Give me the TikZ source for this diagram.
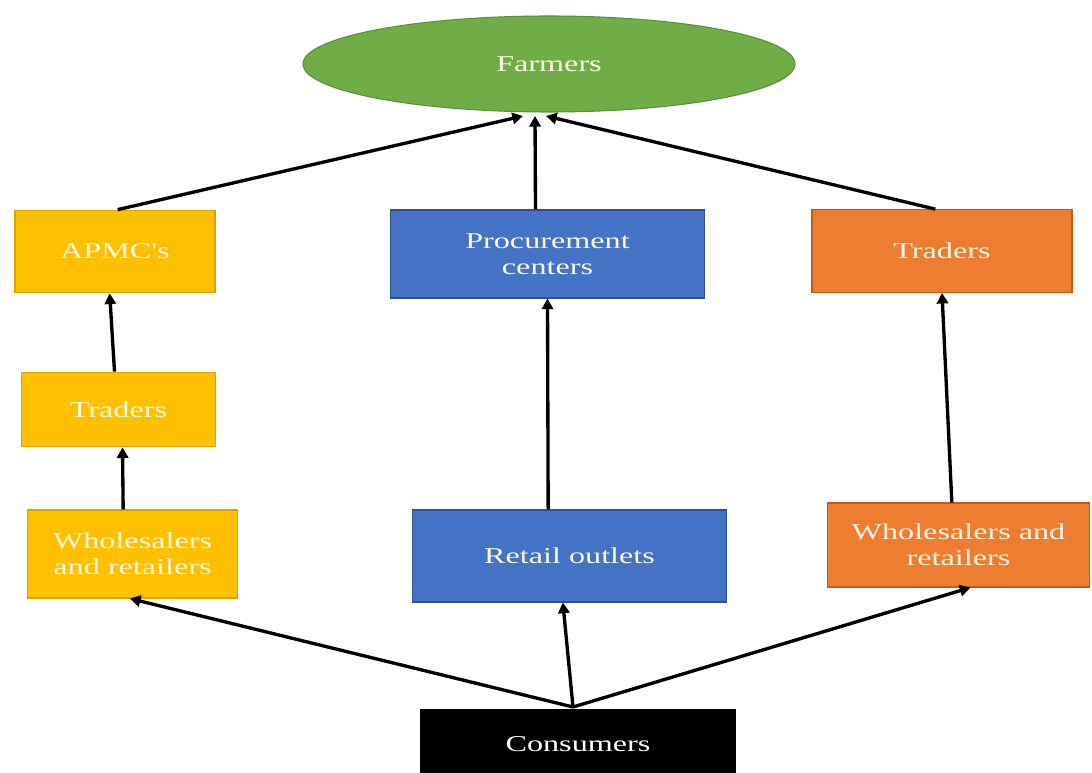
\documentclass[tikz,border=0pt]{standalone}
\usepackage{fontspec}
\setmainfont{Liberation Serif}
\newfontfamily\boxfont[FakeStretch=1.42]{Liberation Serif}
\usetikzlibrary{shapes.geometric,arrows.meta}
\definecolor{cyel}{HTML}{FFC000}
\definecolor{cyelb}{HTML}{D9A300}
\definecolor{cblue}{HTML}{4472C4}
\definecolor{cblueb}{HTML}{2F528F}
\definecolor{corg}{HTML}{ED7D31}
\definecolor{corgb}{HTML}{C55A11}
\definecolor{cgrn}{HTML}{70AD47}
\definecolor{cgrnb}{HTML}{5A8F38}
\definecolor{ctxt}{HTML}{FFF8E8}
\tikzset{
  lbl/.style={font=\boxfont\fontsize{17}{19.5}\selectfont},
  box/.style={draw, line width=0.8pt, text=ctxt, align=center, inner sep=0pt, lbl},
  ybox/.style={box, fill=cyel, draw=cyelb},
  bbox/.style={box, fill=cblue, draw=cblueb},
  obox/.style={box, fill=corg, draw=corgb},
  conn/.style={line width=2.5pt, -{Triangle[length=8pt,width=8.5pt]}}
}
\begin{document}
\begin{tikzpicture}[x=0.75pt,y=-0.75pt]
\useasboundingbox (0,0) rectangle (1092,773);
\node[ellipse, fill=cgrn, draw=cgrnb, line width=0.8pt, minimum width=369pt, minimum height=72pt,
  text=ctxt, lbl] (farmers) at (549,64) {Farmers};
\node[ybox, minimum width=150pt, minimum height=62pt] (apmc) at (115,251.5) {APMC's};
\node[bbox, minimum width=236pt, minimum height=66pt] (proc) at (547.5,254) {Procurement\\centers};
\node[obox, minimum width=195pt, minimum height=62pt] (tradR) at (942,251) {Traders};
\node[ybox, minimum width=145pt, minimum height=56pt] (tradL) at (118.5,409.5) {Traders};
\node[ybox, minimum width=157pt, minimum height=66pt] (wholL) at (132.5,554) {Wholesalers\\and retailers};
\node[bbox, minimum width=236pt, minimum height=69pt] (retail) at (569.5,556) {Retail outlets};
\node[obox, minimum width=197pt, minimum height=63pt] (wholR) at (958.5,545) {Wholesalers and\\retailers};
\node[box, fill=black, draw=black, text=white, minimum width=236pt, minimum height=52pt, anchor=north] (cons) at (578,709) {Consumers};
\coordinate (fA) at (523,116);
\coordinate (fB) at (535,116);
\coordinate (fC) at (546,116);
\coordinate (cTop) at (573,707);
\draw[conn] ([xshift=2pt]apmc.north) -- (fA);
\draw[conn] ([xshift=-9pt]proc.north) -- (fB);
\draw[conn] ([xshift=-5pt]tradR.north) -- (fC);
\draw[conn] ([xshift=-3pt]tradL.north) -- ([xshift=-4pt]apmc.south);
\draw[conn] ([xshift=-7pt]wholL.north) -- ([xshift=3pt]tradL.south);
\draw[conn] ([xshift=-16pt]retail.north) -- ([xshift=0pt]proc.south);
\draw[conn] ([xshift=-5pt]wholR.north) -- ([xshift=0pt]tradR.south);
\draw[conn] (cTop) -- ([xshift=-2pt]wholL.south);
\draw[conn] (cTop) -- ([xshift=-5pt]retail.south);
\draw[conn] (cTop) -- ([xshift=9pt]wholR.south);
\end{tikzpicture}
\end{document}
